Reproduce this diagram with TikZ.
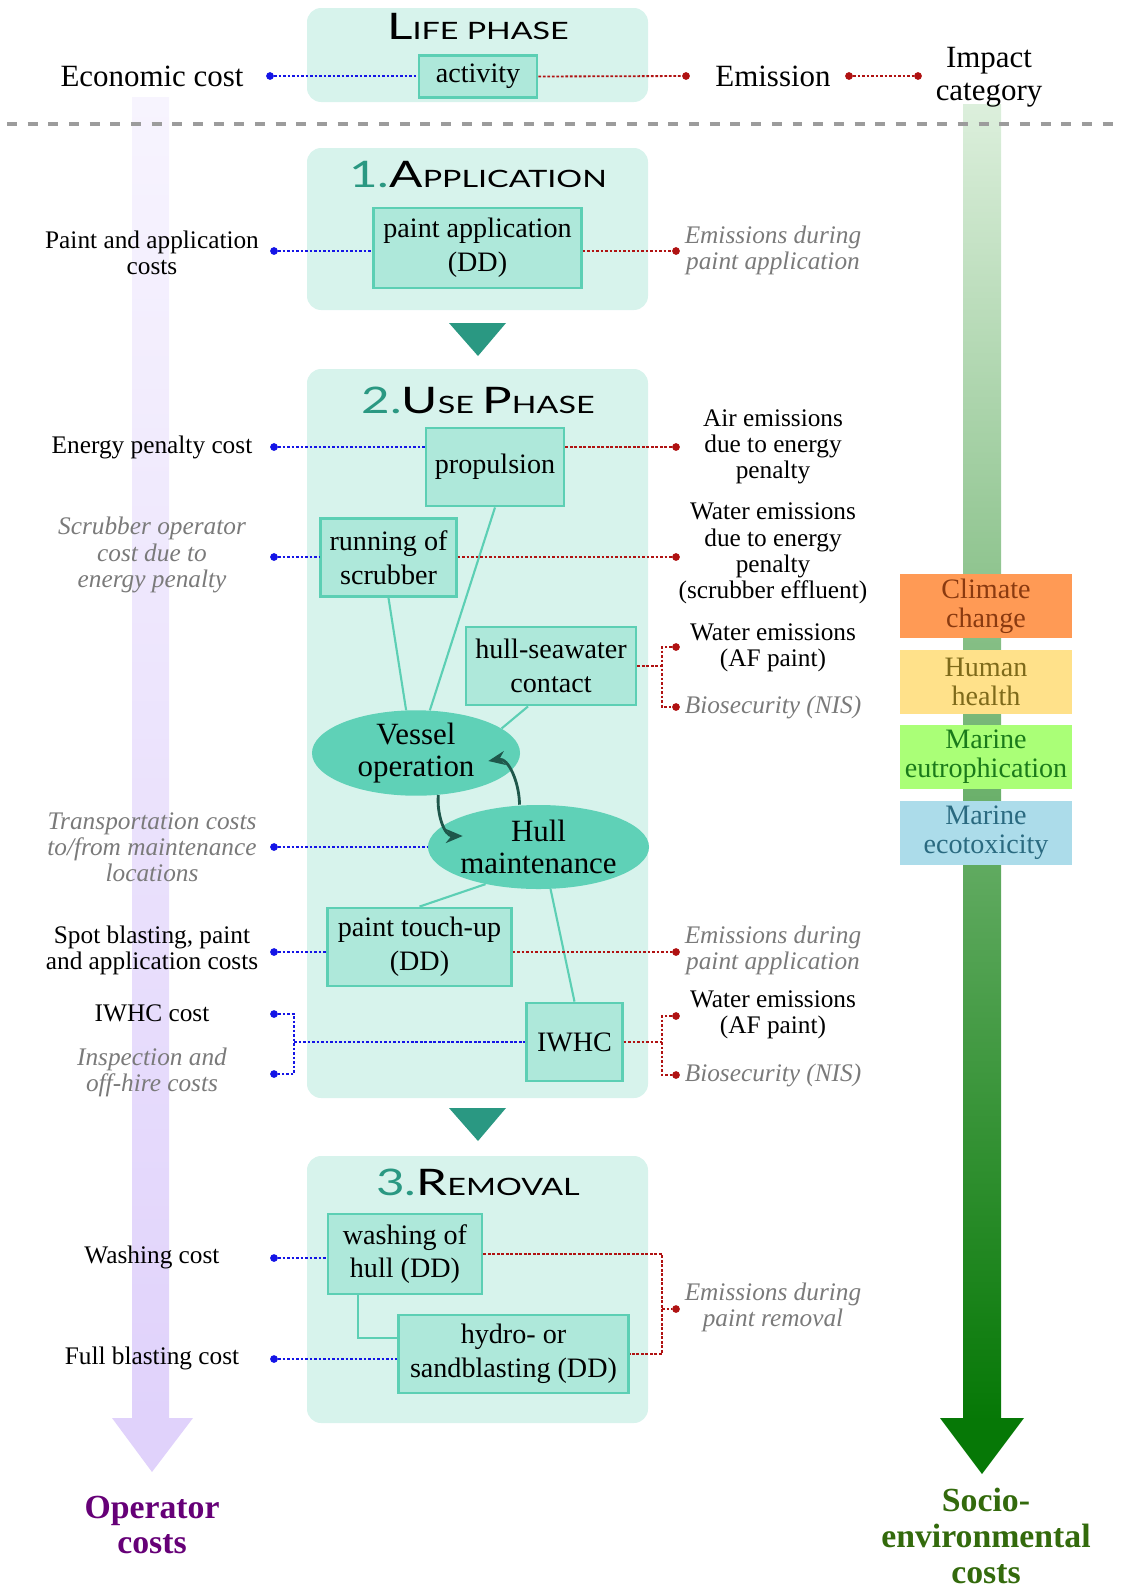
\documentclass[tikz,border=0pt]{standalone}
\usepackage{fontspec}
\setmainfont{Liberation Serif}
\newfontfamily\headfont[FakeStretch=1.35]{Lato}
\usepackage{tikz}
\usetikzlibrary{arrows.meta,positioning,calc,shapes.geometric}

\definecolor{phasefill}{HTML}{D7F3EC}
\definecolor{procfill}{HTML}{AEE8DA}
\definecolor{procline}{HTML}{5CCFB4}
\definecolor{ovalfill}{HTML}{5FD1B7}
\definecolor{tealdark}{HTML}{2A9882}
\definecolor{loopcol}{HTML}{1E574B}
\definecolor{costblue}{HTML}{1414E6}
\definecolor{emired}{HTML}{B01212}
\definecolor{notegray}{HTML}{7A7A7A}
\definecolor{sepgray}{HTML}{9C9C9C}
\definecolor{opcol}{HTML}{660077}
\definecolor{soccol}{HTML}{336A0C}
\definecolor{purptop}{HTML}{F7F4FE}
\definecolor{purpbot}{HTML}{E0D2FB}
\definecolor{greentop}{HTML}{DCEFDC}
\definecolor{greenbot}{HTML}{067806}
\definecolor{climfill}{HTML}{FF9A55}
\definecolor{climtext}{HTML}{8A3A10}
\definecolor{humfill}{HTML}{FFE18A}
\definecolor{humtext}{HTML}{7E6A1A}
\definecolor{eutfill}{HTML}{AAFF77}
\definecolor{euttext}{HTML}{1A7A1A}
\definecolor{ecofill}{HTML}{ACDCEA}
\definecolor{ecotext}{HTML}{2A6A80}

\newcommand\bigc[1]{{\fontsize{26}{26}\selectfont #1}}
\newcommand\smc[1]{{\fontsize{17}{17}\selectfont #1}}
\newcommand\phnum[1]{{\color{tealdark}\fontsize{26}{26}\selectfont #1}}

\begin{document}
\begin{tikzpicture}[x=0.025cm,y=-0.025cm,
  phasebg/.style={fill=phasefill,rounded corners=10pt},
  pbox/.style={rectangle,draw=procline,line width=2pt,fill=procfill,align=center,inner sep=2pt,minimum height=1.95cm,font=\fontsize{20}{24}\selectfont},
  oval/.style={ellipse,fill=ovalfill,minimum width=5.2cm,minimum height=2.1cm,inner sep=0pt,align=center,font=\fontsize{22}{23}\selectfont},
  phtitle/.style={anchor=base,inner sep=0pt,font=\headfont},
  lbl/.style={align=center,inner sep=0pt,font=\fontsize{18}{18.6}\selectfont},
  note/.style={align=center,inner sep=0pt,text=notegray,font=\fontsize{18}{18.6}\selectfont\itshape},
  toplbl/.style={align=center,inner sep=0pt,font=\fontsize{22}{23.5}\selectfont},
  bdot/.style={circle,fill=costblue,inner sep=0pt,minimum size=5.5pt},
  rdot/.style={circle,fill=emired,inner sep=0pt,minimum size=5.5pt},
  bline/.style={costblue,line width=1.3pt,dash pattern=on 2pt off 1.2pt},
  rline/.style={emired,line width=1.3pt,dash pattern=on 2pt off 1.2pt},
  link/.style={procline,line width=1.5pt},
  loop/.style={loopcol,line width=2pt,-{Stealth[length=12pt,width=10pt]}},
  impact/.style={rectangle,minimum width=4.3cm,minimum height=1.6cm,inner sep=0pt,align=center,font=\fontsize{20}{20.5}\selectfont},
  total/.style={align=center,inner sep=0pt,font=\fontsize{24}{25.5}\selectfont\bfseries}
]
\useasboundingbox (0,0) rectangle (1120,1593);

% cost and impact arrows
\shade[top color=purptop,bottom color=purpbot] (132,97) rectangle (169,1420);
\fill[purpbot] (112,1418) -- (193,1418) -- (152,1472) -- cycle;
\shade[top color=greentop,bottom color=greenbot] (963,104) rectangle (1001,1420);
\fill[greenbot] (940,1418) -- (1024,1418) -- (982,1474) -- cycle;
\draw[sepgray,line width=3.3pt,dash pattern=on 7.1pt off 7.6pt] (7,124) -- (1120,124);

% phase boxes
\fill[phasebg] (307,8) rectangle (648,102);
\fill[phasebg] (307,148) rectangle (648,310);
\fill[phasebg] (307,369) rectangle (648,1098);
\fill[phasebg] (307,1156) rectangle (648,1423);
\fill[tealdark] (449,323) -- (506,323) -- (478,356) -- cycle;
\fill[tealdark] (449,1108) -- (506,1108) -- (478,1141) -- cycle;

\node[phtitle] (t0) at (478,39) {\bigc{L}\smc{IFE PHASE}};
\node[phtitle] (t1) at (478,187) {\phnum{1.}\bigc{A}\smc{PPLICATION}};
\node[phtitle] (t2) at (478,413) {\phnum{2.}\bigc{U}\smc{SE }\bigc{P}\smc{HASE}};
\node[phtitle] (t3) at (478,1195) {\phnum{3.}\bigc{R}\smc{EMOVAL}};

% activities
\node[pbox,minimum width=2.95cm,minimum height=1.03cm] (act) at (478,76.5) {activity};
\node[pbox,minimum width=5.18cm,minimum height=2cm] (papp) at (477.5,248) {paint application\\(DD)};
\node[pbox,minimum width=3.45cm] (prop) at (495,467) {propulsion};
\node[pbox,minimum width=3.38cm] (scrub) at (388.5,557.5) {running of\\scrubber};
\node[pbox,minimum width=4.25cm] (hsw) at (551,666) {hull-seawater\\contact};
\node[oval] (vessel) at (416,753) {Vessel\\operation};
\node[oval] (hullm) at (538.5,847) {Hull\\maintenance};
\node[pbox,minimum width=4.58cm] (touch) at (419.5,947) {paint touch-up\\(DD)};
\node[pbox,minimum width=2.38cm] (iwhc) at (574.5,1042) {IWHC};
\node[pbox,minimum width=3.85cm,minimum height=2cm] (wash) at (405,1254) {washing of\\hull (DD)};
\node[pbox,minimum width=5.73cm] (hydro) at (513.5,1354) {hydro- or\\sandblasting (DD)};

\draw[link] (prop.south) -- (vessel.72);
\draw[link] (scrub.south) -- (vessel.103);
\draw[link] ([xshift=-0.575cm]hsw.south) -- (vessel.16);
\draw[link] (hullm.-145) -- (touch.north);
\draw[link] (hullm.-74) -- (iwhc.north);
\draw[link] ([xshift=-1.175cm]wash.south) |- ([yshift=0.4cm]hydro.west);
\draw[loop] (vessel.-62) to[out=-95,in=180] ([xshift=0.875cm,yshift=0.275cm]hullm.west);
\draw[loop] ([xshift=-0.475cm]hullm.north) to[out=90,in=10] ([xshift=-0.8cm,yshift=-0.2cm]vessel.east);

% operator costs
\node[toplbl] (lecon) at (152,76) {Economic cost};
\node[lbl] (lpaint) at (152,253) {Paint and application\\costs};
\node[lbl] (lenergy) at (152,447) {Energy penalty cost};
\node[note] (lscrub) at (152,555) {Scrubber operator\\cost due to\\energy penalty};
\node[note] (ltrans) at (152,847) {Transportation costs\\to/from maintenance\\locations};
\node[lbl] (lspot) at (152,950) {Spot blasting, paint\\and application costs};
\node[lbl] (liwhc) at (152,1013) {IWHC cost};
\node[note] (linsp) at (152,1072) {Inspection and\\off-hire costs};
\node[lbl] (lwash) at (152,1257) {Washing cost};
\node[lbl] (lfull) at (152,1358) {Full blasting cost};

\node[bdot] (c0) at (270,76) {};
\node[bdot] (c1) at (274,251) {};
\node[bdot] (c2) at (274,447) {};
\node[bdot] (c3) at (274,557) {};
\node[bdot] (c4) at (274,847) {};
\node[bdot] (c5) at (274,952) {};
\node[bdot] (c6a) at (274,1014) {};
\node[bdot] (c6b) at (274,1074) {};
\node[bdot] (c7) at (274,1258) {};
\node[bdot] (c8) at (274,1359) {};
\coordinate (ilj) at (294,1042);

\draw[bline] (c0) -- (c0 -| act.west);
\draw[bline] (c1) -- (c1 -| papp.west);
\draw[bline] (c2) -- (c2 -| prop.west);
\draw[bline] (c3) -- (c3 -| scrub.west);
\draw[bline] (c4) -- (c4 -| hullm.west);
\draw[bline] (c5) -- (c5 -| touch.west);
\draw[bline] (c6a) -| (ilj) |- (c6b);
\draw[bline] (ilj) -- (iwhc.west);
\draw[bline] (c7) -- (c7 -| wash.west);
\draw[bline] (c8) -- (c8 -| hydro.west);

% emissions
\node[toplbl] (remi) at (773,76) {Emission};
\node[toplbl] (rimp) at (989,77) {Impact\\category};
\node[note] (rpaint) at (773,250) {Emissions during\\paint application};
\node[lbl] (rair) at (773,447) {Air emissions\\due to energy\\penalty};
\node[lbl] (rwat) at (773,553.5) {Water emissions\\due to energy\\penalty\\(scrubber effluent)};
\node[lbl] (raf) at (773,647.5) {Water emissions\\(AF paint)};
\node[note] (rbio) at (773,707) {Biosecurity (NIS)};
\node[note] (rtouch) at (773,950) {Emissions during\\paint application};
\node[lbl] (raf2) at (773,1015) {Water emissions\\(AF paint)};
\node[note] (rbio2) at (773,1075) {Biosecurity (NIS)};
\node[note] (rrem) at (773,1307) {Emissions during\\paint removal};

\node[rdot] (e0) at (686,76) {};
\node[rdot] (e0b) at (849,76) {};
\node[rdot] (e0c) at (918,76) {};
\node[rdot] (e1) at (676,251) {};
\node[rdot] (e2) at (676,447) {};
\node[rdot] (e3) at (676,557) {};
\node[rdot] (e4a) at (676,647) {};
\node[rdot] (e4b) at (676,707) {};
\node[rdot] (e5) at (676,952) {};
\node[rdot] (e6a) at (676,1016) {};
\node[rdot] (e6b) at (676,1075) {};
\node[rdot] (e7) at (676,1309) {};
\coordinate (hswj) at (662,666);
\coordinate (iwj) at (662,1042);
\coordinate (remj) at (662,1309);

\draw[rline] (act.east) -- (e0);
\draw[rline] (e0b) -- (e0c);
\draw[rline] (papp.east |- e1) -- (e1);
\draw[rline] (prop.east |- e2) -- (e2);
\draw[rline] (scrub.east |- e3) -- (e3);
\draw[rline] (hsw.east) -- (hswj);
\draw[rline] (e4a) -| (hswj) |- (e4b);
\draw[rline] (touch.east |- e5) -- (e5);
\draw[rline] (iwhc.east) -- (iwj);
\draw[rline] (e6a) -| (iwj) |- (e6b);
\draw[rline] (wash.east) -| (remj) |- (hydro.east);
\draw[rline] (remj) -- (e7);

% impact categories
\node[impact,fill=climfill,text=climtext] (clim) at (986,606) {Climate\\change};
\node[impact,fill=humfill,text=humtext] (hum) at (986,682) {Human\\health};
\node[impact,fill=eutfill,text=euttext] (eut) at (986,757) {Marine\\eutrophication};
\node[impact,fill=ecofill,text=ecotext] (eco) at (986,833) {Marine\\ecotoxicity};

\node[total,text=opcol] (opc) at (152,1525) {Operator\\costs};
\node[total,text=soccol] (soc) at (986,1536) {Socio-\\environmental\\costs};
\end{tikzpicture}
\end{document}
